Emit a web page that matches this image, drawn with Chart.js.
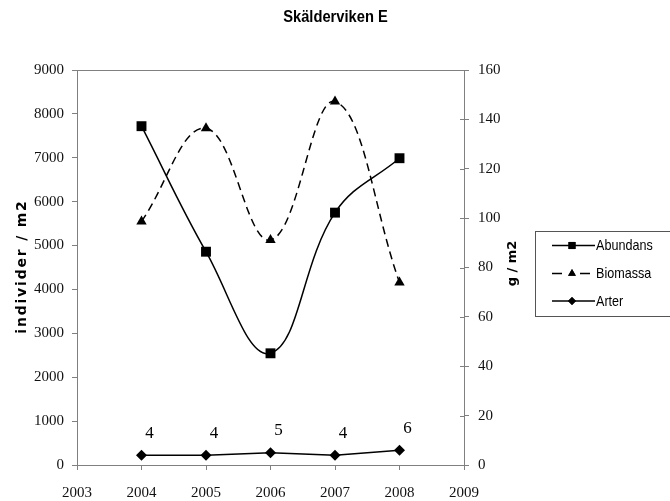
<!DOCTYPE html>
<html><head><meta charset="utf-8">
<script src="https://cdn.jsdelivr.net/npm/chart.js@4/dist/chart.umd.min.js"></script>
<style>html,body{margin:0;padding:0;background:#fff;}#wrap{width:670px;height:501px;}</style>
</head><body><div id="wrap"><canvas id="c" width="670" height="501"></canvas></div>
<script>
const chartTitle = 'Skälderviken E';
const years = [2004, 2005, 2006, 2007, 2008];
const abundans = [7720, 4860, 2545, 5750, 6990];
const biomassa = [98.6, 136.4, 91.1, 147.2, 73.9];
const arter = [4, 4, 5, 4, 6];
const seriesNames = ['Abundans', 'Biomassa', 'Arter'];
const leftAxisTitle = 'individer / m2';
const rightAxisTitle = 'g / m2';
const xRange = [2003, 2009];
const leftRange = [0, 9000, 1000];
const rightRange = [0, 160, 20];

const pts = vals => years.map((y, i) => ({x: y, y: vals[i]}));
const AX = '#808080';
const tickFont = {family: 'Liberation Serif', size: 15};

const decor = {
  id: 'decor',
  afterDraw(chart) {
    const ctx = chart.ctx, a = chart.chartArea;
    ctx.save();
    // title
    ctx.fillStyle = '#000';
    ctx.font = 'bold 15px "Liberation Sans"';
    ctx.textAlign = 'center'; ctx.textBaseline = 'middle';
    ctx.save();
    ctx.translate(335.5, 18); ctx.scale(0.98, 1.05);
    ctx.fillText(chartTitle, 0, 0);
    ctx.restore();
    // top border
    ctx.strokeStyle = AX; ctx.lineWidth = 1;
    ctx.beginPath(); ctx.moveTo(a.left, a.top + 0.5); ctx.lineTo(a.right, a.top + 0.5); ctx.stroke();
    // inner ticks right axis
    const y1 = chart.scales.y1;
    y1.ticks.forEach(t => {
      const py = Math.round(y1.getPixelForValue(t.value)) + 0.5;
      ctx.beginPath(); ctx.moveTo(a.right - 4, py); ctx.lineTo(a.right, py); ctx.stroke();
    });
    // axis titles
    ctx.fillStyle = '#000';
    ctx.save();
    ctx.font = 'bold 14px "DejaVu Sans"';
    ctx.translate(22, (a.top + a.bottom) / 2 - 1);
    ctx.rotate(-Math.PI / 2);
    ctx.letterSpacing = '1.8px';
    ctx.fillText(leftAxisTitle, 0, 0);
    ctx.restore();
    ctx.save();
    ctx.font = 'bold 13px "DejaVu Sans"';
    ctx.translate(513, 263.5);
    ctx.rotate(-Math.PI / 2);
    ctx.fillText(rightAxisTitle, 0, 0);
    ctx.restore();
    // Arter labels
    const meta = chart.getDatasetMeta(2);
    ctx.font = '17px "Liberation Serif"';
    ctx.fillStyle = '#000';
    meta.data.forEach((p, i) => ctx.fillText(String(arter[i]), p.x + 8, p.y - 22));
    // legend
    ctx.strokeStyle = '#555'; ctx.lineWidth = 1;
    ctx.strokeRect(535.5, 231.5, 150, 85);
    const rows = [245.5, 273.5, 301];
    const styles = ['rect', 'triangle', 'rectRot'];
    const radii = [5, 4.5, 4];
    ctx.textAlign = 'left';
    rows.forEach((ry, i) => {
      ctx.strokeStyle = '#000'; ctx.lineWidth = 1.5;
      ctx.beginPath();
      if (i === 1) {
        ctx.moveTo(552, ry); ctx.lineTo(562, ry);
        ctx.moveTo(580, ry); ctx.lineTo(590, ry);
      } else {
        ctx.moveTo(552, ry); ctx.lineTo(595, ry);
      }
      ctx.stroke();
      ctx.fillStyle = '#000';
      Chart.helpers.drawPoint(ctx, {pointStyle: styles[i], radius: radii[i], borderWidth: 0, rotation: 0}, 572, ry);
      ctx.fill();
      ctx.save();
      ctx.font = '15px "Liberation Sans"';
      ctx.translate(596, ry + 0.5); ctx.scale(0.84, 1);
      ctx.fillText(seriesNames[i], 0, 0);
      ctx.restore();
    });
    ctx.restore();
  }
};

new Chart(document.getElementById('c'), {
  type: 'line',
  data: {
    datasets: [
      {label: seriesNames[0], data: pts(abundans), yAxisID: 'y', borderColor: '#000', backgroundColor: '#000',
       borderWidth: 1.5, tension: 0.4, pointStyle: 'rect', pointRadius: 7, pointBorderWidth: 0, pointBackgroundColor: '#000'},
      {label: seriesNames[1], data: pts(biomassa), yAxisID: 'y1', borderColor: '#000', backgroundColor: '#000',
       borderWidth: 1.5, borderDash: [8, 5], tension: 0.4, pointStyle: 'triangle', pointRadius: 6, pointBorderWidth: 0, pointBackgroundColor: '#000'},
      {label: seriesNames[2], data: pts(arter), yAxisID: 'y1', borderColor: '#000', backgroundColor: '#000',
       borderWidth: 1.5, tension: 0, pointStyle: 'rectRot', pointRadius: 5.5, pointBorderWidth: 0, pointBackgroundColor: '#000'}
    ]
  },
  options: {
    responsive: false, animation: false, devicePixelRatio: 1,
    layout: {padding: {left: 0, right: 166, top: 70, bottom: 0}},
    plugins: {legend: {display: false}, tooltip: {enabled: false}, title: {display: false}},
    scales: {
      x: {type: 'linear', position: 'bottom', min: xRange[0], max: xRange[1],
          afterFit: s => { s.height = 36; },
          ticks: {stepSize: 1, font: tickFont, color: '#111', padding: 14, maxRotation: 0, callback: v => String(v)},
          grid: {drawOnChartArea: false, drawTicks: true, tickLength: 5, color: AX},
          border: {color: AX, width: 1}},
      y: {type: 'linear', position: 'left', min: leftRange[0], max: leftRange[1],
          afterFit: s => { s.width = 77; },
          ticks: {stepSize: leftRange[2], font: tickFont, color: '#111', padding: 8, callback: v => String(v)},
          grid: {drawOnChartArea: false, drawTicks: true, tickLength: 5, color: AX},
          border: {color: AX, width: 1}},
      y1: {type: 'linear', position: 'right', min: rightRange[0], max: rightRange[1],
          afterFit: s => { s.width = 40; },
          ticks: {stepSize: rightRange[2], font: tickFont, color: '#111', padding: 9, callback: v => String(v)},
          grid: {drawOnChartArea: false, drawTicks: true, tickLength: 5, color: AX},
          border: {color: AX, width: 1}}
    }
  },
  plugins: [decor]
});
</script></body></html>
